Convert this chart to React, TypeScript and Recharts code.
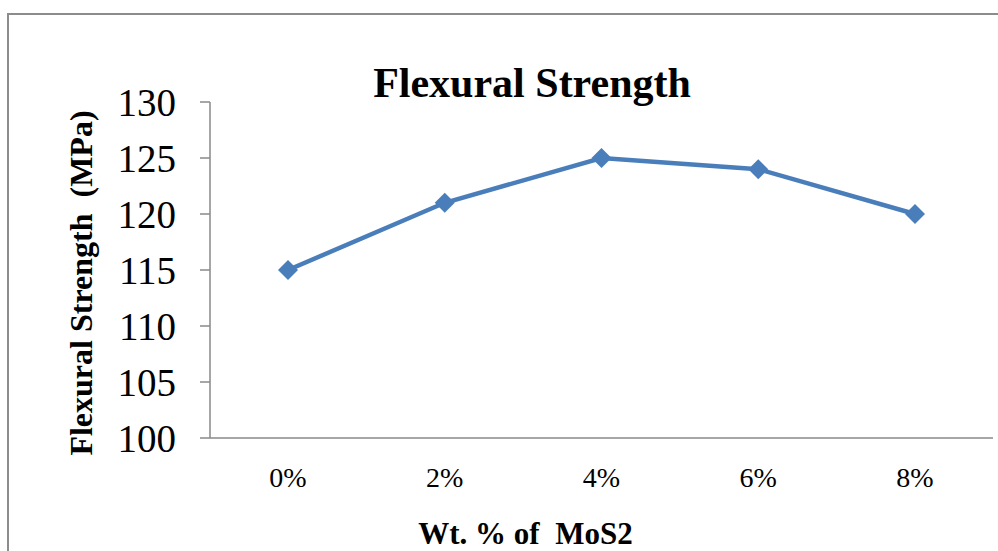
import { LineChart, Line, XAxis, YAxis } from "recharts";

const categories = ["0%", "2%", "4%", "6%", "8%"];
const strength = [115, 121, 125, 124, 120];
const yTicks = [100, 105, 110, 115, 120, 125, 130];

const data = categories.map((c, i) => ({ wt: c, strength: strength[i] }));

const SERIES_COLOR = "#4a7ebb";
const AXIS_COLOR = "#898989";
const FONT = "'Liberation Serif', 'Times New Roman', serif";

const Diamond = (props: any) => {
  const { cx, cy } = props;
  if (cx == null || cy == null) return null;
  const r = 10;
  return (
    <path
      d={`M${cx},${cy - r} L${cx + r},${cy} L${cx},${cy + r} L${cx - r},${cy} Z`}
      fill={SERIES_COLOR}
      stroke="none"
    />
  );
};

const YLabel = (props: any) => {
  const vb = props.viewBox || { x: 0, y: 0, width: 0, height: 0 };
  const x = vb.x + 92;
  const y = vb.y + vb.height / 2 + 13;
  return (
    <text
      x={x}
      y={y}
      transform={`rotate(-90, ${x}, ${y})`}
      textAnchor="middle"
      fontFamily={FONT}
      fontWeight="bold"
      fontSize={32}
      fill="#000"
      style={{ whiteSpace: "pre" }}
    >
      {"Flexural Strength  (MPa)"}
    </text>
  );
};

const XLabel = (props: any) => {
  const vb = props.viewBox || { x: 0, y: 0, width: 0, height: 0 };
  return (
    <text
      x={vb.x + vb.width / 2 - 76}
      y={vb.y + 106}
      textAnchor="middle"
      fontFamily={FONT}
      fontWeight="bold"
      fontSize={31}
      fill="#000"
      style={{ whiteSpace: "pre" }}
    >
      {"Wt. % of  MoS2"}
    </text>
  );
};

export default function App() {
  return (
    <div
      style={{
        position: "absolute",
        left: 0,
        top: 0,
        width: 998,
        height: 551,
        overflow: "hidden",
        background: "#fff",
      }}
    >
      {/* outer chart frame, runs off the right and bottom edges */}
      <div
        style={{
          position: "absolute",
          left: 7,
          top: 13,
          width: 1100,
          height: 700,
          borderTop: "2px solid #8c8c8c",
          borderLeft: "2px solid #8c8c8c",
        }}
      />
      <svg
        width={998}
        height={551}
        style={{ position: "absolute", left: 0, top: 0 }}
      >
        <text
          x={532}
          y={97}
          textAnchor="middle"
          fontFamily={FONT}
          fontWeight="bold"
          fontSize={42}
          fill="#000"
        >
          Flexural Strength
        </text>
      </svg>
      <div style={{ position: "absolute", left: 0, top: 0 }}>
        <LineChart
          width={998}
          height={551}
          data={data}
          margin={{ top: 102, right: 5, bottom: 0, left: 0 }}
        >
          <XAxis
            dataKey="wt"
            height={113}
            padding={{ left: 78, right: 78 }}
            axisLine={{ stroke: AXIS_COLOR, strokeWidth: 1.5 }}
            tickLine={false}
            tickSize={0}
            tickMargin={29}
            tick={{ fill: "#000", fontSize: 28, fontFamily: FONT }}
            label={<XLabel />}
          />
          <YAxis
            width={210}
            domain={[100, 130]}
            ticks={yTicks}
            interval={0}
            axisLine={{ stroke: AXIS_COLOR, strokeWidth: 1.5 }}
            tickLine={{ stroke: AXIS_COLOR, strokeWidth: 1.5 }}
            tickSize={10}
            tickMargin={24}
            tick={{ fill: "#000", fontSize: 39, fontFamily: FONT }}
            label={<YLabel />}
          />
          <Line
            type="linear"
            dataKey="strength"
            stroke={SERIES_COLOR}
            strokeWidth={4.5}
            dot={<Diamond />}
            activeDot={false}
            isAnimationActive={false}
          />
        </LineChart>
      </div>
    </div>
  );
}
